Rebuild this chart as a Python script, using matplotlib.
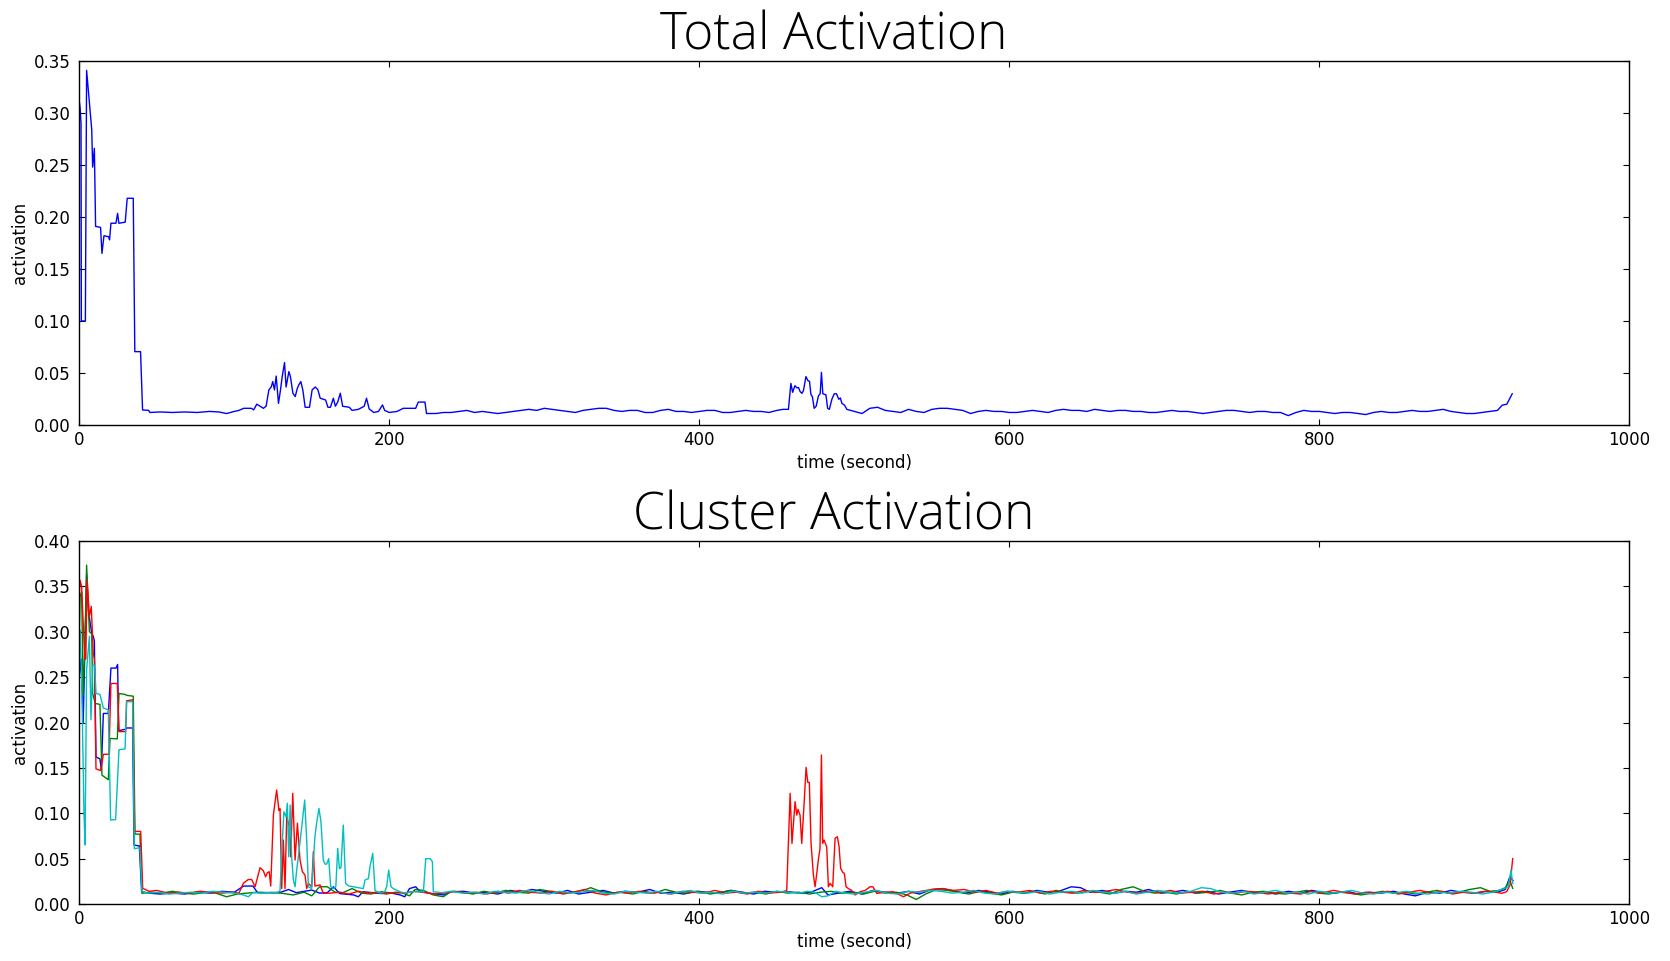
import matplotlib
matplotlib.use('Agg')
import matplotlib.pyplot as plt

# ---- data: total activation (time in s, activation) ----
total_t = [0, 0.5, 1.1, 1.3, 3.9, 4.7, 8.0, 8.6, 9.7, 10.5, 13.7, 14.6, 15.9, 18.9, 19.5,
           20.4, 23.6, 24.7, 25.5, 29.6, 30.9, 34.8, 35.8, 39.5, 40.8, 44.7, 45.5, 52, 60,
           68, 76, 84, 90, 95, 100, 103, 106, 111, 112.5, 114.5, 116.7, 118.8, 120.5, 122.3,
           123.8, 124.8, 125.9, 127, 128.5, 129.8, 130.9, 132.4, 133.4, 135.2, 136.2, 137.8,
           139.3, 140.6, 141.6, 142.9, 144.2, 145.7, 148.5, 150.2, 152.2, 153.9, 155.4, 158.9,
           160.4, 162, 163.9, 165.2, 166.7, 168.4, 169.9, 174.2, 176, 180, 183.8, 185.3, 187,
           190, 193, 195.6, 197, 200, 205, 209, 217, 218.7, 223, 224,
           230, 235, 240, 245, 250, 255, 260, 265, 270, 275, 280, 285, 290, 295, 300, 305,
           310, 315, 320, 325, 330, 335, 340, 345, 350, 355, 360, 365, 370, 375, 380, 385,
           390, 395, 400, 405, 410, 415, 420, 425, 430, 435, 440, 445, 450, 454,
           457.5, 459.1, 460.2, 461.7, 463, 464, 465.1, 466.2, 467.2, 468.8, 470.1, 471.1,
           472, 473, 474.1, 475.4, 476.9, 478, 478.8, 479.7, 481.7, 482.8, 483.9, 485.6, 487.1,
           488.5, 490, 491, 492, 493.7, 495.2,
           500, 505, 510, 515, 520, 525, 530, 535, 540, 545, 550, 555, 560, 565, 570, 575,
           580, 585, 590, 595, 600, 605, 610, 615, 620, 625, 630, 635, 640, 645, 650, 655,
           660, 665, 670, 675, 680, 685, 690, 695, 700, 705, 710, 715, 720, 725, 730, 735,
           740, 745, 750, 755, 760, 765, 770, 775, 780, 785, 790, 795, 800, 805, 810, 815,
           820, 825, 830, 835, 840, 845, 850, 855, 860, 865, 870, 875, 880, 885, 890, 895,
           900, 905, 910, 915, 918, 921, 924.5]
total_v = [0.311, 0.305, 0.29, 0.100, 0.100, 0.341, 0.284, 0.248, 0.266, 0.191, 0.190, 0.165,
           0.182, 0.181, 0.178, 0.194, 0.194, 0.2035, 0.194, 0.195, 0.218, 0.218, 0.0705,
           0.0705, 0.0144, 0.0141, 0.012, 0.0125, 0.012, 0.0125, 0.012, 0.013, 0.0125, 0.011,
           0.013, 0.014, 0.016, 0.016, 0.0145, 0.020, 0.018, 0.016, 0.018, 0.0337, 0.0365,
           0.0417, 0.0337, 0.047, 0.0208, 0.0337, 0.0465, 0.060, 0.0365, 0.0513, 0.0465, 0.0305,
           0.0273, 0.035, 0.0385, 0.0417, 0.0337, 0.017, 0.017, 0.0337, 0.0365, 0.034, 0.0257,
           0.024, 0.017, 0.017, 0.0257, 0.018, 0.022, 0.0305, 0.018, 0.017, 0.014, 0.015, 0.018,
           0.0257, 0.0154, 0.012, 0.013, 0.0193, 0.014, 0.012, 0.013, 0.016, 0.016, 0.022,
           0.022, 0.011,
           0.011, 0.012, 0.012, 0.013, 0.014, 0.012, 0.013, 0.012, 0.011, 0.012, 0.013, 0.014,
           0.015, 0.014, 0.016, 0.015, 0.014, 0.013, 0.012, 0.014, 0.015, 0.016, 0.016, 0.014,
           0.013, 0.014, 0.014, 0.012, 0.012, 0.014, 0.015, 0.013, 0.013, 0.012, 0.013, 0.014,
           0.014, 0.012, 0.012, 0.013, 0.014, 0.013, 0.013, 0.012, 0.014, 0.015,
           0.015, 0.040, 0.0314, 0.0378, 0.0356, 0.036, 0.032, 0.0304, 0.033, 0.0465,
           0.0426, 0.042, 0.0295, 0.027, 0.016, 0.018, 0.0282, 0.030, 0.0506, 0.030, 0.029,
           0.016, 0.015, 0.025, 0.030, 0.030, 0.0247, 0.026, 0.0208, 0.019, 0.015,
           0.013, 0.011, 0.016, 0.017, 0.014, 0.013, 0.012, 0.015, 0.013, 0.012, 0.015, 0.016,
           0.016, 0.015, 0.014, 0.011, 0.013, 0.014, 0.013, 0.013, 0.012, 0.012, 0.013, 0.014,
           0.013, 0.012, 0.014, 0.015, 0.014, 0.014, 0.013, 0.015, 0.014, 0.013, 0.014, 0.014,
           0.013, 0.013, 0.012, 0.012, 0.013, 0.014, 0.013, 0.013, 0.012, 0.011, 0.012, 0.013,
           0.014, 0.014, 0.013, 0.012, 0.013, 0.013, 0.012, 0.012, 0.009, 0.012, 0.014, 0.013,
           0.013, 0.012, 0.011, 0.012, 0.012, 0.011, 0.010, 0.012, 0.013, 0.012, 0.012, 0.013,
           0.014, 0.013, 0.013, 0.014, 0.015, 0.013, 0.012, 0.011, 0.011, 0.012, 0.013, 0.014,
           0.019, 0.020, 0.030]

# ---- data: cluster activation ----
blue_t = [0, 1.2, 2.5, 4.7, 5.8, 8, 9, 9.7, 10.75, 13.3, 14.2, 15.5, 18.7, 20.4, 23.7, 24.7,
          25.4, 29.5, 30.5, 34.4, 35.3, 38.7, 40.2, 45, 52, 60, 68, 75, 85, 92, 100, 106, 112,
          115, 125, 130, 135, 140, 150, 155, 160, 164, 168, 177, 180, 183, 195, 200, 207, 210,
          213, 217, 220, 228, 235, 240, 248, 255, 262, 270, 278, 285, 292, 300, 308, 315, 322,
          330, 338, 345, 352, 360, 368, 375, 382, 390, 398, 405, 412, 420, 428, 435, 442, 450,
          458, 465, 472, 479, 483, 490, 497, 505, 512, 520, 528, 535, 542, 550, 557, 565, 572,
          580, 588, 595, 602, 610, 618, 625, 632, 640, 646, 652, 660, 668, 675, 682, 690, 698,
          705, 712, 720, 728, 735, 742, 750, 758, 765, 772, 780, 788, 795, 802, 810, 818, 825,
          832, 840, 848, 855, 862, 870, 878, 885, 892, 900, 908, 915, 920, 923, 925]
blue_v = [0.25, 0.27, 0.20, 0.363, 0.324, 0.298, 0.295, 0.29, 0.162, 0.16, 0.148, 0.21, 0.21,
          0.26, 0.26, 0.264, 0.191, 0.1925, 0.194, 0.194, 0.065, 0.064, 0.0136, 0.012, 0.011,
          0.012, 0.011, 0.013, 0.012, 0.014, 0.013, 0.0198, 0.0198, 0.0125, 0.0125, 0.013,
          0.016, 0.0125, 0.0154, 0.012, 0.0125, 0.019, 0.0115, 0.010, 0.008, 0.0135, 0.0115,
          0.0125, 0.010, 0.008, 0.017, 0.019, 0.0135, 0.0115, 0.010, 0.0135, 0.014, 0.012,
          0.013, 0.011, 0.015, 0.013, 0.016, 0.014, 0.012, 0.015, 0.011, 0.013, 0.015, 0.012,
          0.014, 0.013, 0.016, 0.012, 0.013, 0.011, 0.014, 0.013, 0.012, 0.015, 0.013, 0.011,
          0.014, 0.013, 0.0135, 0.012, 0.013, 0.018, 0.010, 0.012, 0.014, 0.011, 0.015, 0.013,
          0.012, 0.014, 0.011, 0.016, 0.017, 0.014, 0.012, 0.015, 0.013, 0.011, 0.014, 0.012,
          0.015, 0.013, 0.014, 0.019, 0.018, 0.013, 0.015, 0.012, 0.014, 0.013, 0.016, 0.012,
          0.013, 0.015, 0.012, 0.014, 0.011, 0.013, 0.015, 0.012, 0.013, 0.011, 0.014, 0.012,
          0.015, 0.013, 0.012, 0.014, 0.011, 0.013, 0.012, 0.014, 0.011, 0.009, 0.013, 0.012,
          0.015, 0.013, 0.012, 0.014, 0.013, 0.016, 0.030, 0.026]

green_t = [0, 0.5, 1.5, 2.5, 3.5, 4.7, 6.5, 8, 8.6, 10.3, 13.3, 14.6, 18.7, 19.8, 24.5, 25.6,
           29.5, 30.5, 34.8, 35.9, 39.1, 40.4, 46, 53, 60, 67, 74, 82, 88, 95, 102, 108, 115,
           122, 130, 138, 145, 150, 155, 160, 165, 170, 176, 182, 188, 195, 202, 208, 213,
           216.6, 222, 228.4, 234.8, 240, 247, 254, 261, 268, 275, 282, 290, 297, 304, 311,
           318, 325, 330, 336, 343, 350, 357, 364, 371, 378, 385, 392, 400, 407, 414, 421,
           428, 436, 443, 450, 457, 464, 471, 478, 485, 492, 499, 506, 513, 520, 527, 534,
           540, 546, 553, 560, 567, 574, 581, 588, 595, 602, 609, 616, 623, 630, 637, 644,
           651, 658, 665, 672, 680, 687, 694, 701, 708, 715, 722, 729, 736, 743, 750, 757,
           764, 771, 778, 785, 792, 799, 806, 813, 820, 827, 834, 841, 848, 855, 862, 869,
           876, 883, 890, 897, 904, 910, 916, 920, 923, 924.8]
green_v = [0.30, 0.339, 0.344, 0.23, 0.28, 0.3735, 0.30, 0.298, 0.232, 0.221, 0.22, 0.142,
           0.137, 0.1825, 0.182, 0.232, 0.231, 0.23, 0.229, 0.077, 0.077, 0.0118, 0.013,
           0.012, 0.014, 0.012, 0.011, 0.013, 0.012, 0.008, 0.011, 0.012, 0.013, 0.0125,
           0.012, 0.010, 0.013, 0.009, 0.019, 0.019, 0.013, 0.0125, 0.017, 0.012, 0.011,
           0.0135, 0.012, 0.0125, 0.009, 0.016, 0.015, 0.010, 0.008, 0.014, 0.013, 0.011,
           0.014, 0.012, 0.015, 0.013, 0.012, 0.016, 0.014, 0.012, 0.013, 0.015, 0.018, 0.014,
           0.012, 0.013, 0.011, 0.014, 0.012, 0.016, 0.013, 0.012, 0.014, 0.011, 0.013, 0.015,
           0.012, 0.013, 0.011, 0.014, 0.012, 0.013, 0.011, 0.013, 0.014, 0.012, 0.013, 0.011,
           0.014, 0.012, 0.013, 0.010, 0.005, 0.011, 0.016, 0.015, 0.013, 0.011, 0.014, 0.012,
           0.010, 0.013, 0.012, 0.014, 0.011, 0.015, 0.013, 0.012, 0.014, 0.013, 0.011, 0.016,
           0.019, 0.014, 0.012, 0.013, 0.011, 0.014, 0.012, 0.013, 0.015, 0.012, 0.010, 0.013,
           0.014, 0.012, 0.011, 0.013, 0.015, 0.012, 0.011, 0.013, 0.012, 0.010, 0.012, 0.014,
           0.012, 0.013, 0.011, 0.013, 0.015, 0.012, 0.013, 0.016, 0.018, 0.014, 0.015, 0.018,
           0.026, 0.0173]

red_t = [0, 0.4, 1.5, 3.5, 4.2, 5, 6.5, 7.7, 9, 9.7, 10.75, 13.8, 15.5, 19.1, 20.4, 24.5, 25.6,
         29.9, 30.5, 34.4, 35.7, 39.6, 40.9, 45, 50, 57, 64, 71, 78, 85, 92, 98, 103, 105.8,
         109, 111.2, 113.4, 116.6, 118.7, 120.2, 121.3, 122.5, 123.5, 125.2, 127.3, 128.8,
         129.5, 130.6, 131.6, 132.7, 133.8, 135.5, 136.4, 137.7, 139.2, 140.7, 142.4, 143.9,
         145.6, 146.7, 147.8, 149.9, 151, 152, 155.3, 157.4, 162, 168, 174, 180, 186, 192, 198,
         204, 210, 216, 222, 228, 235, 242, 249, 256, 263, 270, 277, 284, 291, 298, 305, 312,
         319, 326, 333, 340, 347, 354, 361, 368, 375, 382, 389, 396, 403, 410, 417, 424, 431,
         438, 445, 452, 456.4, 458.6, 459.8, 461.8, 462.9, 463.7, 465, 466.1, 467.6, 468.9,
         470, 471, 472.1, 473.6, 474.7, 475.8, 476.8, 477.9, 478.8, 479.6, 480.5, 482.2, 483.3,
         484.4, 486.1, 487.6, 489.1, 490.2, 491.2, 492.5, 493.6, 494.7, 496.2, 498.3, 500.5,
         503.7, 507, 510.2, 512, 514.5, 520, 525.2, 531.7, 536, 543, 550, 557, 564, 571, 578,
         585, 592, 599, 606, 613, 620, 627, 634, 641, 648, 655, 662, 669, 676, 683, 690, 697,
         704, 711, 718, 725, 732, 739, 746, 753, 760, 767, 774, 781, 788, 795, 802, 809, 816,
         823, 830, 837, 844, 851, 858, 865, 872, 879, 886, 893, 900, 907, 914, 917.7, 920.9,
         923.1, 924.8]
red_v = [0.34, 0.357, 0.35, 0.27, 0.27, 0.357, 0.317, 0.328, 0.276, 0.27, 0.149, 0.147, 0.165,
         0.165, 0.243, 0.243, 0.19, 0.19, 0.224, 0.225, 0.080, 0.080, 0.0173, 0.014, 0.015,
         0.012, 0.013, 0.012, 0.014, 0.013, 0.012, 0.013, 0.012, 0.0228, 0.027, 0.027, 0.019,
         0.040, 0.0367, 0.030, 0.0345, 0.0356, 0.0198, 0.098, 0.1256, 0.103, 0.105, 0.017,
         0.0705, 0.017, 0.096, 0.085, 0.052, 0.122, 0.0485, 0.089, 0.0485, 0.0356, 0.032,
         0.017, 0.0228, 0.019, 0.0577, 0.0198, 0.021, 0.0118, 0.012, 0.013, 0.011, 0.014,
         0.012, 0.013, 0.011, 0.013, 0.012, 0.014, 0.013, 0.011, 0.012, 0.014, 0.012, 0.013,
         0.011, 0.014, 0.012, 0.015, 0.013, 0.012, 0.014, 0.011, 0.013, 0.016, 0.012, 0.010,
         0.013, 0.012, 0.014, 0.012, 0.013, 0.011, 0.014, 0.013, 0.012, 0.015, 0.012, 0.013,
         0.011, 0.014, 0.012, 0.013, 0.0147, 0.122, 0.0668, 0.1128, 0.098, 0.1043, 0.098,
         0.0668, 0.11, 0.1506, 0.134, 0.134, 0.0668, 0.032, 0.019, 0.0338, 0.0485, 0.0613,
         0.1642, 0.0668, 0.0705, 0.063, 0.019, 0.0228, 0.019, 0.0724, 0.0742, 0.063, 0.0393,
         0.035, 0.0338, 0.019, 0.017, 0.015, 0.010, 0.0135, 0.015, 0.019, 0.019, 0.0117,
         0.013, 0.0135, 0.008, 0.012, 0.014, 0.016, 0.017, 0.015, 0.016, 0.013, 0.015, 0.012,
         0.014, 0.013, 0.015, 0.012, 0.014, 0.013, 0.012, 0.015, 0.013, 0.014, 0.016, 0.013,
         0.012, 0.014, 0.013, 0.015, 0.012, 0.013, 0.014, 0.011, 0.013, 0.012, 0.014, 0.013,
         0.011, 0.013, 0.012, 0.011, 0.014, 0.012, 0.015, 0.013, 0.011, 0.013, 0.012, 0.014,
         0.011, 0.013, 0.015, 0.012, 0.014, 0.011, 0.013, 0.012, 0.014, 0.013, 0.0118, 0.0136,
         0.021, 0.050]

cyan_t = [0, 0.4, 1.5, 3.0, 3.7, 4.7, 6.5, 7.5, 8.6, 9.9, 10.75, 13.3, 15.5, 18.7, 20.2, 23.4,
          25.6, 29.5, 30.5, 34.4, 35.5, 39.1, 40.4, 44, 51, 58, 65, 72, 79, 86, 93, 100, 105.8,
          109, 112, 118, 124, 128, 129.5, 130.6, 132, 133.4, 134.2, 135.1, 136, 137, 138.1,
          139.2, 140.2, 141.3, 143.5, 145.4, 146.7, 147.8, 149.9, 152, 153.1, 154.6, 155.9,
          157.4, 158.5, 159.6, 160.9, 162.2, 163.9, 165.5, 166.7, 167.8, 168.8, 170.3, 171.8,
          173.6, 176.8, 183.2, 184.3, 186.5, 187.5, 189.3, 190.8, 194, 197, 198.3, 199.6,
          201.1, 202.6, 206.9, 210, 214.4, 222, 223.5, 226.3, 227.8, 228.4, 234, 240, 247, 254,
          261, 268, 275, 282, 289, 296, 303, 310, 317, 324, 331, 338, 345, 352, 359, 366, 373,
          380, 387, 394, 401, 408, 415, 422, 429, 436, 443, 450, 457, 464, 470, 475, 479, 483,
          488, 494, 500, 507, 514, 521, 528, 535, 542, 549, 556, 563, 570, 577, 584, 591, 598,
          605, 612, 619, 626, 633, 640, 647, 654, 661, 668, 675, 682, 689, 696, 703, 710, 717,
          724, 730, 737, 744, 751, 758, 765, 772, 779, 786, 793, 800, 807, 814, 821, 828, 835,
          842, 849, 856, 863, 870, 877, 884, 891, 898, 905, 912, 917.9, 922, 923.7, 924.8]
cyan_v = [0.28, 0.302, 0.25, 0.10, 0.065, 0.258, 0.295, 0.203, 0.263, 0.263, 0.232, 0.231,
          0.216, 0.214, 0.0926, 0.093, 0.17, 0.171, 0.223, 0.223, 0.061, 0.062, 0.0136, 0.012,
          0.013, 0.011, 0.012, 0.013, 0.012, 0.014, 0.013, 0.012, 0.010, 0.008, 0.0125, 0.012,
          0.013, 0.0125, 0.015, 0.0577, 0.1017, 0.096, 0.111, 0.052, 0.109, 0.052, 0.0264,
          0.019, 0.037, 0.052, 0.085, 0.1146, 0.0705, 0.019, 0.017, 0.074, 0.089, 0.1054,
          0.0907, 0.0485, 0.044, 0.044, 0.050, 0.019, 0.017, 0.019, 0.0613, 0.039, 0.040,
          0.087, 0.0228, 0.020, 0.019, 0.017, 0.0264, 0.028, 0.041, 0.0558, 0.0147, 0.012,
          0.0135, 0.019, 0.0375, 0.019, 0.017, 0.0135, 0.012, 0.0135, 0.0135, 0.050, 0.050,
          0.0466, 0.0135, 0.0125, 0.014, 0.012, 0.013, 0.011, 0.014, 0.013, 0.012, 0.015,
          0.013, 0.011, 0.014, 0.012, 0.013, 0.015, 0.012, 0.011, 0.014, 0.013, 0.012, 0.014,
          0.011, 0.013, 0.015, 0.012, 0.013, 0.011, 0.014, 0.012, 0.013, 0.012, 0.014, 0.013,
          0.012, 0.014, 0.0125, 0.008, 0.009, 0.014, 0.012, 0.011, 0.013, 0.015, 0.012, 0.011,
          0.014, 0.013, 0.015, 0.014, 0.012, 0.013, 0.015, 0.012, 0.011, 0.014, 0.013, 0.012,
          0.014, 0.011, 0.013, 0.014, 0.012, 0.015, 0.013, 0.012, 0.014, 0.011, 0.013, 0.015,
          0.013, 0.012, 0.014, 0.018, 0.017, 0.013, 0.012, 0.014, 0.011, 0.013, 0.015, 0.012,
          0.013, 0.011, 0.014, 0.012, 0.013, 0.015, 0.012, 0.011, 0.013, 0.012, 0.014, 0.012,
          0.011, 0.013, 0.012, 0.014, 0.013, 0.011, 0.013, 0.016, 0.019, 0.0375, 0.0228]

# ---- old matplotlib look ----
plt.rcParams['font.size'] = 12
plt.rcParams['xtick.direction'] = 'in'
plt.rcParams['ytick.direction'] = 'in'
plt.rcParams['xtick.top'] = True
plt.rcParams['ytick.right'] = True
plt.rcParams['xtick.major.size'] = 4
plt.rcParams['ytick.major.size'] = 4
plt.rcParams['xtick.major.pad'] = 4
plt.rcParams['ytick.major.pad'] = 6
plt.rcParams['axes.linewidth'] = 1.0

title_font = dict(family=['Open Sans', 'Lato', 'DejaVu Sans'], weight='light', size=37)

fig = plt.figure(figsize=(16.7, 9.61), dpi=100)

ax1 = fig.add_axes([0.0475, 0.5578, 0.9281, 0.3787])
ax1.plot(total_t, total_v, color='b', lw=1.0)
ax1.set_xlim(0, 1000)
ax1.set_ylim(0, 0.35)
ax1.set_yticks([0, 0.05, 0.10, 0.15, 0.20, 0.25, 0.30, 0.35])
ax1.set_yticklabels(['0.00', '0.05', '0.10', '0.15', '0.20', '0.25', '0.30', '0.35'])
ax1.set_xticks([0, 200, 400, 600, 800, 1000])
ax1.set_xlabel('time (second)')
ax1.set_ylabel('activation')
ax1.set_title('Total Activation', fontdict=title_font, pad=-4, x=0.487)

ax2 = fig.add_axes([0.0475, 0.0593, 0.9281, 0.3777])
ax2.plot(blue_t, blue_v, color='b', lw=1.0)
ax2.plot(green_t, green_v, color='g', lw=1.0)
ax2.plot(red_t, red_v, color='r', lw=1.0)
ax2.plot(cyan_t, cyan_v, color='c', lw=1.0)
ax2.set_xlim(0, 1000)
ax2.set_ylim(0, 0.40)
ax2.set_yticks([0, 0.05, 0.10, 0.15, 0.20, 0.25, 0.30, 0.35, 0.40])
ax2.set_yticklabels(['0.00', '0.05', '0.10', '0.15', '0.20', '0.25', '0.30', '0.35', '0.40'])
ax2.set_xticks([0, 200, 400, 600, 800, 1000])
ax2.set_xlabel('time (second)')
ax2.set_ylabel('activation')
ax2.set_title('Cluster Activation', fontdict=title_font, pad=3, x=0.487)

fig.savefig('out.png', dpi=100)
